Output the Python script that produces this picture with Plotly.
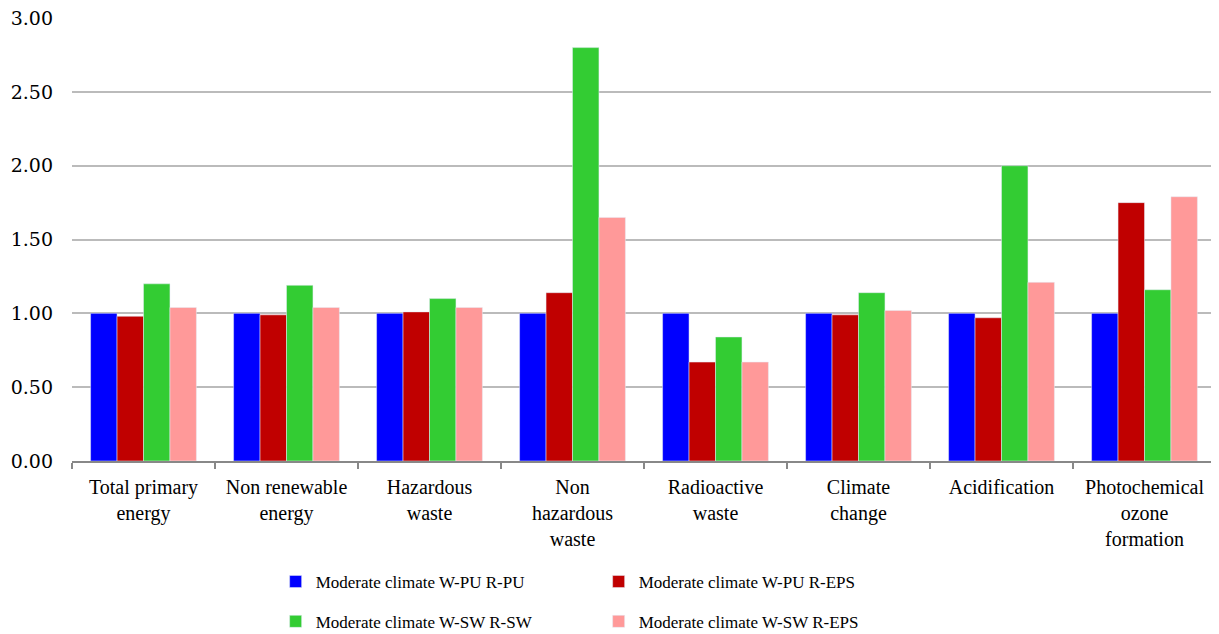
import plotly.graph_objects as go

categories = [
    "Total primary<br>energy",
    "Non renewable<br>energy",
    "Hazardous<br>waste",
    "Non<br>hazardous<br>waste",
    "Radioactive<br>waste",
    "Climate<br>change",
    "Acidification",
    "Photochemical<br>ozone<br>formation",
]

pu_pu = [1.00, 1.00, 1.00, 1.00, 1.00, 1.00, 1.00, 1.00]
pu_eps = [0.98, 0.99, 1.01, 1.14, 0.67, 0.99, 0.97, 1.75]
sw_sw = [1.20, 1.19, 1.10, 2.80, 0.84, 1.14, 2.00, 1.16]
sw_eps = [1.04, 1.04, 1.04, 1.65, 0.67, 1.02, 1.21, 1.79]

series = [
    ("Moderate climate W-PU R-PU", pu_pu, "#0000FF", "legend"),
    ("Moderate climate W-PU R-EPS", pu_eps, "#C00000", "legend"),
    ("Moderate climate W-SW R-SW", sw_sw, "#33CC33", "legend2"),
    ("Moderate climate W-SW R-EPS", sw_eps, "#FF9999", "legend2"),
]

fig = go.Figure()
for name, vals, colour, leg in series:
    fig.add_trace(go.Bar(
        x=categories,
        y=vals,
        name=name,
        marker_color=colour,
        legend=leg,
    ))

# two legend rows, two entries each
legend_style = dict(
    orientation="h",
    x=0.178,
    xanchor="left",
    yanchor="middle",
    entrywidth=278,
    font=dict(family="Liberation Serif", size=17, color="black"),
    bgcolor="rgba(0,0,0,0)",
)

# page body has an 8px margin, so the figure is a bit smaller than the window
fig.update_layout(
    barmode="group",
    bargap=0.26,
    bargroupgap=0,
    width=1211,
    height=626,
    margin=dict(l=64, r=3, t=10, b=173, autoexpand=False),
    plot_bgcolor="white",
    paper_bgcolor="white",
    font=dict(family="Liberation Serif", size=19, color="black"),
    legend=dict(legend_style, y=-0.273),
    legend2=dict(legend_style, y=-0.363),
)

fig.update_yaxes(
    range=[0, 3.0005],
    dtick=0.5,
    tickformat=".2f",
    showgrid=True,
    gridcolor="#bbbbbb",
    gridwidth=1.5,
    zeroline=False,
    showline=False,
    tickfont=dict(family="DejaVu Serif", size=19),
    ticks="",
    ticklabelstandoff=18,
    ticklabeloverflow="allow",
    automargin=False,
)

fig.update_xaxes(
    showline=True,
    linecolor="#888888",
    linewidth=2,
    ticks="outside",
    tickson="boundaries",
    ticklen=6,
    tickcolor="#888888",
    tickwidth=2,
    tickangle=0,
    tickfont=dict(family="Liberation Serif", size=20),
    ticklabelstandoff=7,
    automargin=False,
)

fig.write_html("out.html")
